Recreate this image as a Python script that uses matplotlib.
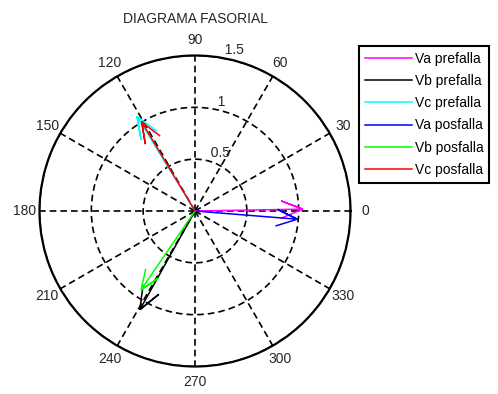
import numpy as np
import matplotlib
matplotlib.use("Agg")
import matplotlib.pyplot as plt

plt.rcParams["font.family"] = ["Liberation Sans", "DejaVu Sans"]
plt.rcParams["font.size"] = 10

# phasors (magnitude in pu, angle in degrees)
labels = ["Va prefalla", "Vb prefalla", "Vc prefalla",
          "Va posfalla", "Vb posfalla", "Vc posfalla"]
magnitudes = [1.04, 1.09, 1.07, 0.99, 0.92, 1.00]
angles_deg = [1.0, 240.8, 121.5, -4.6, 235.6, 120.9]
colors = ["#ff00ff", "#000000", "#00ffff", "#0000ff", "#00ff00", "#ff0000"]

r_ticks = [0.5, 1.0, 1.5]
theta_ticks = list(range(0, 360, 30))

W, H = 498, 394
fig = plt.figure(figsize=(W / 100, H / 100), dpi=100)
ax = fig.add_axes([39.5 / W, (H - 366.5) / H, 311 / W, 311 / H], projection="polar")

# compass style arrow shape (same proportions as MATLAB's compass)
xx = np.array([0, 1, 0.8, 1, 0.8])
yy = np.array([0, 0, 0.08, 0, -0.08])
arrow = xx + 1j * yy

for mag, ang, col, lab in zip(magnitudes, angles_deg, colors, labels):
    z = arrow * (mag * np.exp(1j * np.deg2rad(ang)))
    ax.plot(np.angle(z), np.abs(z), color=col, lw=1.1, label=lab,
            solid_joinstyle="miter", zorder=3)

ax.set_ylim(0, 1.5)
ax.set_yticks(r_ticks)
ax.set_yticklabels([])
ax.set_thetagrids(theta_ticks, [str(t) for t in theta_ticks])
ax.tick_params(axis="x", pad=0.5, labelsize=10, colors="#262626")
ax.grid(True, color="black", lw=1.2, linestyle=(0, (4, 2.4)))
ax.spines["polar"].set_linewidth(1.6)
ax.spines["polar"].set_color("black")

# radial labels placed like MATLAB's polar grid
for rt in r_ticks:
    ax.text(np.deg2rad(82), rt + 0.025, "  " + f"{rt:g}", ha="left",
            va="baseline", fontsize=10, color="#262626")

ax.set_title("DIAGRAMA FASORIAL", y=1 + (55 - 22.7) / 311, pad=0,
             fontsize=10, color="#262626")

leg = ax.legend(loc="upper left", bbox_to_anchor=(359 / W, 1 - 46 / H),
                bbox_transform=fig.transFigure, borderaxespad=0,
                fancybox=False, framealpha=1, handlelength=3.4,
                handletextpad=0.2, labelspacing=0.59, borderpad=0.42,
                fontsize=10)
leg.get_frame().set_edgecolor("black")
leg.get_frame().set_linewidth(1.5)

fig.savefig("out.png", dpi=100)
